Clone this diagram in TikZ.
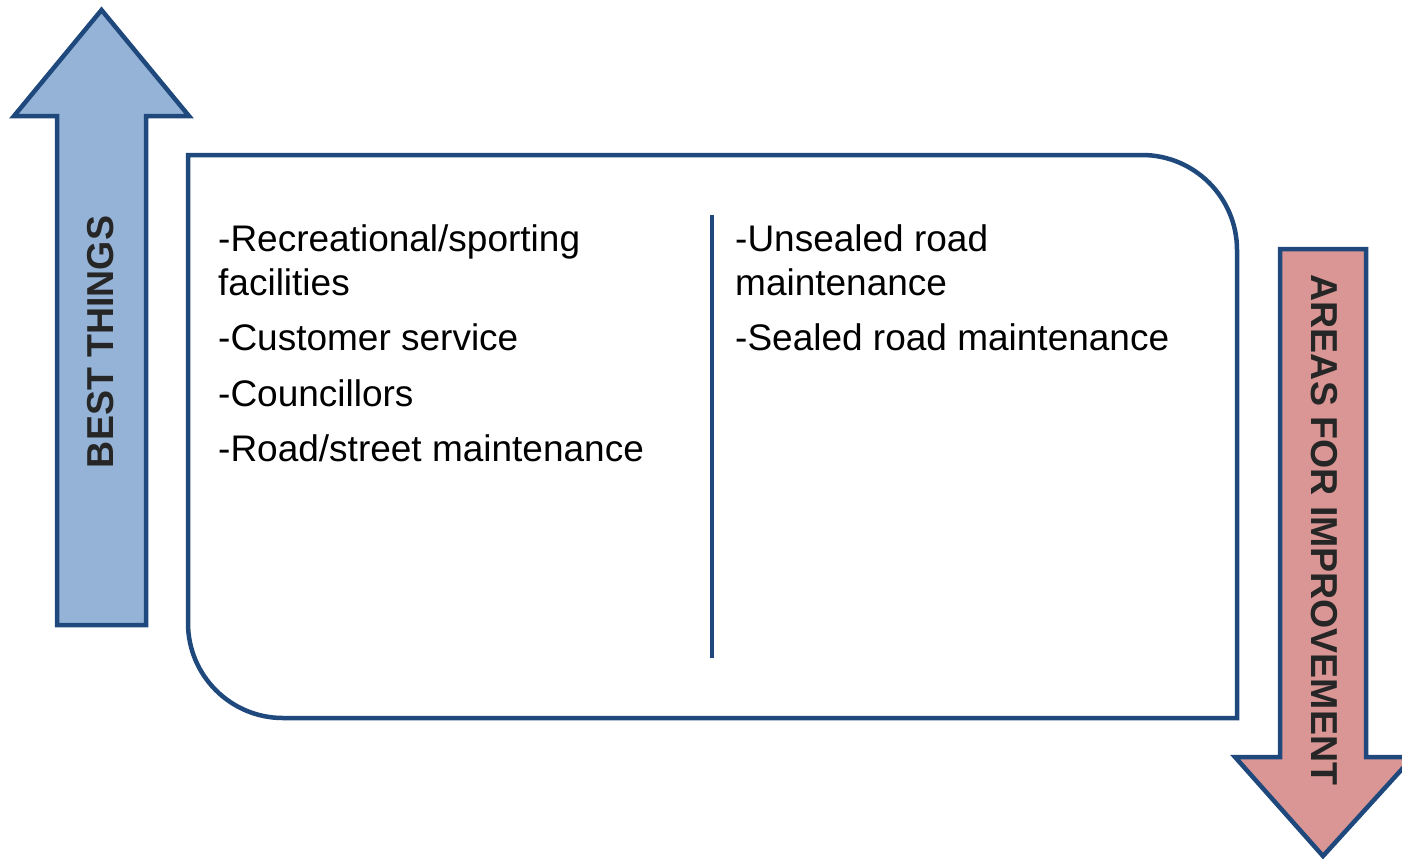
\documentclass[tikz,border=0pt]{standalone}
\usepackage{fontspec}
\setmainfont{Liberation Sans}
\definecolor{navy}{HTML}{1F497D}
\definecolor{bluefill}{HTML}{95B3D7}
\definecolor{redfill}{HTML}{D99694}
\definecolor{darktext}{HTML}{262626}
\begin{document}
\begin{tikzpicture}[x=1pt,y=-1pt,
  arrowshape/.style={draw=navy,line width=4.5pt,line join=miter},
  item/.style={anchor=base west,inner sep=0pt,font=\fontsize{37}{44}\selectfont},
  arrowlabel/.style={inner sep=0pt,text=darktext,font=\bfseries\fontsize{37.5}{40}\selectfont}]
\useasboundingbox (0,0) rectangle (1402,863);
\begin{scope}
\clip (0,0) rectangle (1402,863);
% left arrow
\draw[arrowshape,fill=bluefill] (101.5,10) -- (189,116) -- (146,116) -- (146,625) -- (57,625) -- (57,116) -- (14,116) -- cycle;
% right arrow
\draw[arrowshape,fill=redfill] (1280,249) -- (1366,249) -- (1366,757) -- (1413,757) -- (1323,856) -- (1235,757) -- (1280,757) -- cycle;
\end{scope}
\node[arrowlabel,rotate=90] (best) at (101,342) {BEST THINGS};
\node[arrowlabel,rotate=-90] (areas) at (1324,530) {AREAS FOR IMPROVEMENT};
% main box
\draw[navy,line width=4.5pt] (188,155) -- (1142,155) arc(-90:0:95) -- (1237,718) -- (283,718) arc(90:180:95) -- cycle;
\coordinate (dtop) at (712,215);
\coordinate (dbot) at (712,658);
\draw[navy,line width=4.5pt] (dtop) -- (dbot);
% left column
\node[item] (l1a) at (218,251) {-Recreational/sporting};
\node[item] (l1b) at (218,295) {facilities};
\node[item] (l2) at (218,350) {-Customer service};
\node[item] (l3) at (218,406) {-Councillors};
\node[item] (l4) at (218,461) {-Road/street maintenance};
% right column
\node[item] (r1a) at (735,251) {-Unsealed road};
\node[item] (r1b) at (735,295) {maintenance};
\node[item] (r2) at (735,350) {-Sealed road maintenance};
\end{tikzpicture}
\end{document}
